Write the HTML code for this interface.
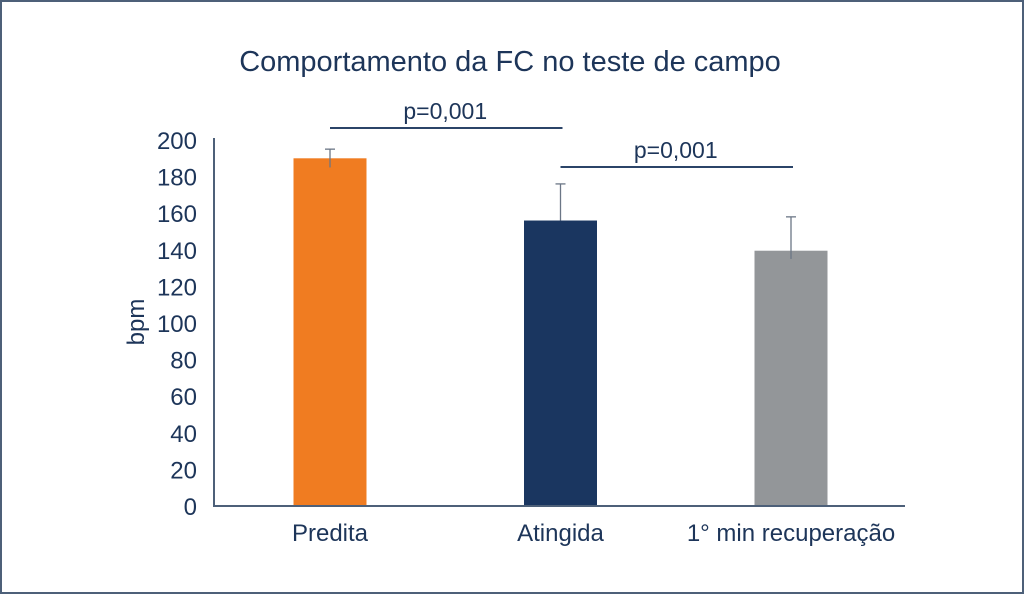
<!DOCTYPE html>
<html><head><meta charset="utf-8"><style>
html,body{margin:0;padding:0;background:#fff}
svg{display:block}
text{font-family:"Liberation Sans Narrow","Liberation Sans",sans-serif;fill:#1d3559}
</style></head><body>
<svg id="chart" width="1024" height="594" viewBox="0 0 1024 594">
<rect x="1" y="1" width="1022" height="592" fill="#fff" stroke="#4d6079" stroke-width="2"/>
<text x="510" y="71" font-size="29" text-anchor="middle">Comportamento da FC no teste de campo</text>
<text transform="translate(144,322) rotate(-90)" font-size="24" text-anchor="middle">bpm</text>
<g id="g"></g>
</svg>
<script>
const categories=["Predita","Atingida","1° min recuperação"];
const values=[190,156,139.5];
const errUp=[5,20,18.5];
const errDown=[5,0,4.5];
const yTicks=[0,20,40,60,80,100,120,140,160,180,200];
const sigLabels=["p=0,001","p=0,001"];
const colors=["#f07c21","#1a3660","#939699"];
const NS="http://www.w3.org/2000/svg";
const g=document.getElementById('g');
const x0=214,x1=905,y0=506,yTop=140,yMax=200;
const y=v=>y0-(v/yMax)*(y0-yTop);
const xc=i=>330+i*230.5;
const bw=73;
function mk(t,a){const e=document.createElementNS(NS,t);for(const k in a)e.setAttribute(k,a[k]);g.appendChild(e);return e;}
yTicks.forEach(t=>{
 const e=mk('text',{x:197,y:y(t)+9,'font-size':24,'text-anchor':'end'});
 e.textContent=t;
 
 
});
categories.forEach((c,i)=>{
 const b=mk('rect',{x:xc(i)-bw/2,y:y(values[i]),width:bw,height:y0-y(values[i]),fill:colors[i]});
 
 
 const l=mk('line',{x1:xc(i),x2:xc(i),y1:y(values[i]+errUp[i]),y2:y(values[i]-errDown[i]),stroke:'#6b7686','stroke-width':1.3});
 
 
 const c2=mk('line',{x1:xc(i)-5,x2:xc(i)+5,y1:y(values[i]+errUp[i]),y2:y(values[i]+errUp[i]),stroke:'#6b7686','stroke-width':1.3});
 
 
 const t=mk('text',{x:xc(i),y:541,'font-size':24,'text-anchor':'middle'});
 t.textContent=c;
 
 
});
const ax=mk('path',{d:`M${x0} ${yTop-2} V${y0} H${x1}`,fill:'none',stroke:'#4d6079','stroke-width':2});


[[0,1,128],[1,2,167]].forEach((s,k)=>{
 const l=mk('line',{x1:xc(s[0]),x2:xc(s[1])+2,y1:s[2],y2:s[2],stroke:'#2b4468','stroke-width':2});
 
 
 const t=mk('text',{x:(xc(s[0])+xc(s[1]))/2,y:s[2]-9,'font-size':23,'text-anchor':'middle'});
 t.textContent=sigLabels[k];
 
 
});
</script>
</body></html>
